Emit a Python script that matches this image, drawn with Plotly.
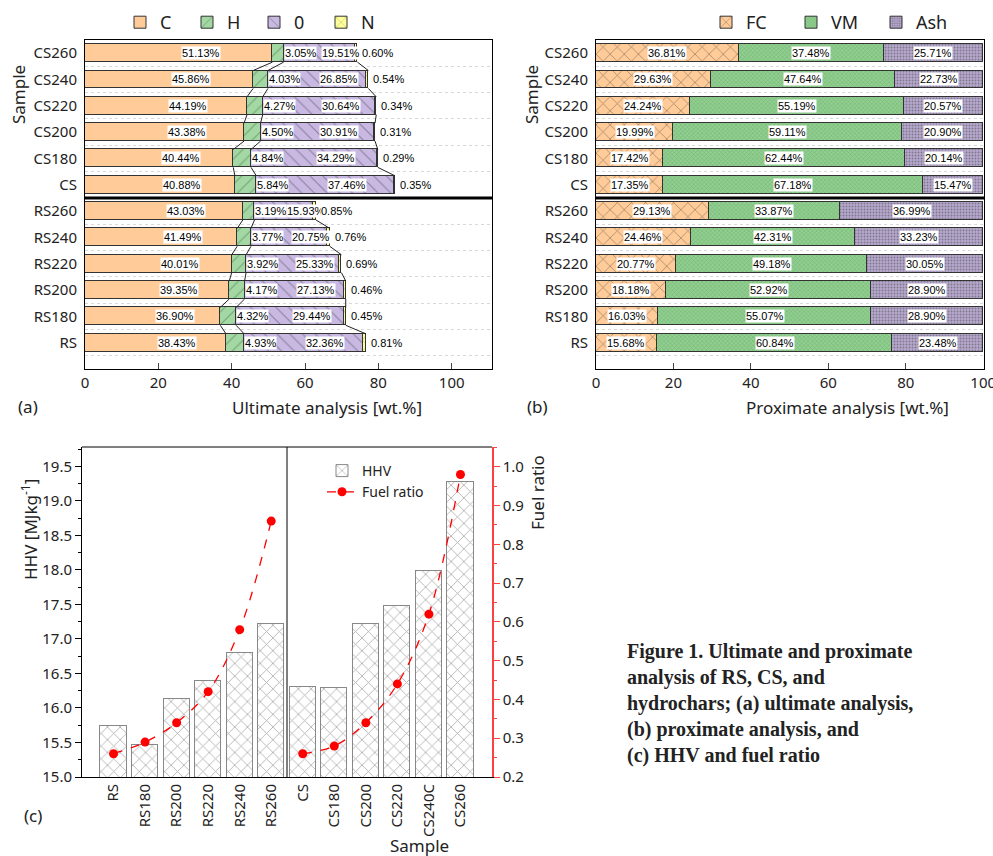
import plotly.graph_objects as go

# ---------------- data ----------------
samples = ["RS", "RS180", "RS200", "RS220", "RS240", "RS260",
           "CS", "CS180", "CS200", "CS220", "CS240", "CS260"]
hhv_labels = ["RS", "RS180", "RS200", "RS220", "RS240", "RS260",
              "CS", "CS180", "CS200", "CS220", "CS240C", "CS260"]

# (a) ultimate analysis [wt.%]
C_vals = [38.43, 36.90, 39.35, 40.01, 41.49, 43.03, 40.88, 40.44, 43.38, 44.19, 45.86, 51.13]
H_vals = [4.93, 4.32, 4.17, 3.92, 3.77, 3.19, 5.84, 4.84, 4.50, 4.27, 4.03, 3.05]
O_vals = [32.36, 29.44, 27.13, 25.33, 20.75, 15.93, 37.46, 34.29, 30.91, 30.64, 26.85, 19.51]
N_vals = [0.81, 0.45, 0.46, 0.69, 0.76, 0.85, 0.35, 0.29, 0.31, 0.34, 0.54, 0.60]

# (b) proximate analysis [wt.%]
FC_vals = [15.68, 16.03, 18.18, 20.77, 24.46, 29.13, 17.35, 17.42, 19.99, 24.24, 29.63, 36.81]
VM_vals = [60.84, 55.07, 52.92, 49.18, 42.31, 33.87, 67.18, 62.44, 59.11, 55.19, 47.64, 37.48]
Ash_vals = [23.48, 28.90, 28.90, 30.05, 33.23, 36.99, 15.47, 20.14, 20.90, 20.57, 22.73, 25.71]

# (c) HHV and fuel ratio
HHV_vals = [15.74, 15.47, 16.13, 16.39, 16.79, 17.22, 16.30, 16.29, 17.22, 17.47, 17.98, 19.28]
FR_vals = [0.26, 0.29, 0.34, 0.42, 0.58, 0.86, 0.26, 0.28, 0.34, 0.44, 0.62, 0.98]

groups = [list(range(0, 6)), list(range(6, 12))]
pos = list(range(len(samples)))

# ---------------- layout helpers ----------------
W, H = 993, 856
def px(x): return x / W
def py(y): return 1 - y / H

SANS = "Noto Sans"
LABEL_FONT = dict(family="Liberation Sans", size=11, color="black")
BW = 0.68

fig = go.Figure()

# ---------------- (a) ultimate ----------------
seg_a = [
    ("C", C_vals, "#FFCC99", None),
    ("H", H_vals, "#A3D7A3", dict(shape="/", fgcolor="#3f6f3f", size=9, solidity=0.12)),
    ("0", O_vals, "#C8B8E2", dict(shape="\\", fgcolor="#4a4a5a", size=9, solidity=0.12)),
    ("N", N_vals, "#FFFF99", dict(shape="x", fgcolor="#555", size=8, solidity=0.12)),
]
for name, vals, col, pat in seg_a:
    mk = dict(color=col, line=dict(color="#333", width=1))
    if pat:
        mk["pattern"] = dict(bgcolor=col, **pat)
    fig.add_trace(go.Bar(x=vals, y=pos, orientation="h", width=BW, name=name,
                         marker=mk, xaxis="x", yaxis="y", legend="legend"))

# connecting lines between adjacent bars (per group)
cum1 = C_vals
cum2 = [c + h for c, h in zip(C_vals, H_vals)]
tot = [c + h + o + n for c, h, o, n in zip(C_vals, H_vals, O_vals, N_vals)]
lx, ly = [], []
for b in (cum1, cum2, tot):
    for g in groups:
        for i in g[:-1]:
            lx += [b[i], b[i + 1], None]
            ly += [i + BW / 2, i + 1 - BW / 2, None]
fig.add_trace(go.Scatter(x=lx, y=ly, mode="lines", line=dict(color="#222", width=1),
                         showlegend=False, hoverinfo="skip", xaxis="x", yaxis="y"))

ann = []
for i in pos:
    c, h, o, n = C_vals[i], H_vals[i], O_vals[i], N_vals[i]
    common = dict(xref="x", yref="y", y=i, showarrow=False, font=LABEL_FONT,
                  bgcolor="white", borderpad=0, yanchor="middle")
    ann.append(dict(x=c / 2, text=f"{c:.2f}%", xshift=22, xanchor="center", **common))
    ann.append(dict(x=c + h, text=f"{h:.2f}%", xanchor="left", **common))
    ann.append(dict(x=c + h + o / 2, text=f"{o:.2f}%", xshift=22, xanchor="center", **common))
    ann.append(dict(x=c + h + o + n, text=f"{n:.2f}%", xanchor="left", xshift=4, **common))

# ---------------- (b) proximate ----------------
seg_b = [
    ("FC", FC_vals, "#FFCC99", dict(shape="x", fgcolor="#3a3028", size=10, solidity=0.14)),
    ("VM", VM_vals, "#90CF90", dict(shape="x", fgcolor="#559255", size=3, solidity=0.3)),
    ("Ash", Ash_vals, "#B7A8CF", dict(shape=".", fgcolor="#4a4a4a", size=3, solidity=0.35)),
]
for name, vals, col, pat in seg_b:
    fig.add_trace(go.Bar(x=vals, y=pos, orientation="h", width=BW, name=name,
                         marker=dict(color=col, line=dict(color="#333", width=1),
                                     pattern=dict(bgcolor=col, **pat)),
                         xaxis="x2", yaxis="y2", legend="legend2"))

for i in pos:
    f, v, a = FC_vals[i], VM_vals[i], Ash_vals[i]
    common = dict(xref="x2", yref="y2", y=i, showarrow=False, font=LABEL_FONT,
                  bgcolor="white", borderpad=0, xanchor="center", yanchor="middle")
    ann.append(dict(x=f / 2, text=f"{f:.2f}%", **common))
    ann.append(dict(x=f + v / 2, text=f"{v:.2f}%", **common))
    ann.append(dict(x=f + v + a / 2, text=f"{a:.2f}%", **common))

# ---------------- (c) HHV & fuel ratio ----------------
fig.add_trace(go.Bar(x=pos, y=HHV_vals, width=0.83, name="HHV",
                     marker=dict(color="white", line=dict(color="#888", width=1),
                                 pattern=dict(shape="x", fgcolor="#606060", bgcolor="white",
                                              size=9, solidity=0.18)),
                     xaxis="x3", yaxis="y3", legend="legend3"))
for k, g in enumerate(groups):
    fig.add_trace(go.Scatter(x=g, y=[FR_vals[i] for i in g], mode="lines+markers",
                             name="Fuel ratio", showlegend=(k == 0),
                             line=dict(color="red", width=1.3, dash="dash", shape="spline"),
                             marker=dict(color="red", size=9),
                             xaxis="x3", yaxis="y4", legend="legend3"))

# ---------------- axes ----------------
ydom_ab = [py(369), py(40)]
axis_common = dict(showline=True, linecolor="black", linewidth=1, mirror=True,
                   showgrid=False, zeroline=False, automargin=False,
                   ticklabeloverflow="allow",
                   tickfont=dict(family=SANS, size=15, color="#222"))
cat_y = dict(tickvals=pos, ticktext=samples, range=[-1, 11.5], ticks="",
             ticklabelstandoff=4,
             minor=dict(tick0=0.5, dtick=1, showgrid=True, gridcolor="#d8d8d8",
                        griddash="dot", gridwidth=1, ticks=""))

fig.update_layout(
    xaxis=dict(domain=[px(85), px(492)], anchor="y", range=[0, 111],
               tickvals=[0, 20, 40, 60, 80, 100], ticks="inside", ticklen=6, **axis_common),
    yaxis=dict(domain=ydom_ab, anchor="x", **cat_y, **axis_common),
    xaxis2=dict(domain=[px(596), px(984)], anchor="y2", range=[0, 100.2],
                tickvals=[0, 20, 40, 60, 80, 100], ticks="inside", ticklen=6, **axis_common),
    yaxis2=dict(domain=ydom_ab, anchor="x2", **cat_y, **axis_common),
    xaxis3=dict(domain=[px(82), px(492)], anchor="y3", range=[-1, 12],
                tickvals=pos, ticktext=hhv_labels, tickangle=-90, ticks="",
                showline=True, linecolor="black", mirror=False, showgrid=False, zeroline=False,
                automargin=False, tickfont=dict(family=SANS, size=15, color="#222")),
    yaxis3=dict(domain=[py(777), py(447)], anchor="x3", range=[15, 19.78],
                tickvals=[15, 15.5, 16, 16.5, 17, 17.5, 18, 18.5, 19, 19.5],
                tickformat=".1f", ticks="outside", ticklen=6, tickcolor="black",
                minor=dict(ticks="outside", ticklen=3, dtick=0.25, tickcolor="black"),
                showline=True, linecolor="black", showgrid=False, zeroline=False,
                automargin=False, tickfont=dict(family=SANS, size=15, color="#222")),
    yaxis4=dict(overlaying="y3", anchor="x3", side="right", range=[0.2, 1.051],
                tickvals=[0.2, 0.3, 0.4, 0.5, 0.6, 0.7, 0.8, 0.9, 1.0],
                tickformat=".1f", ticks="outside", ticklen=6, tickcolor="#ff4040",
                minor=dict(ticks="outside", ticklen=3, dtick=0.05, tickcolor="#ff4040"),
                showline=True, linecolor="#ff4040", linewidth=1.5, showgrid=False, zeroline=False,
                automargin=False, tickfont=dict(family=SANS, size=15, color="#222")),
)

# separator lines
shapes = [
    dict(type="line", xref="x domain", yref="y", x0=0, x1=1, y0=5.5, y1=5.5,
         line=dict(color="black", width=3)),
    dict(type="line", xref="x2 domain", yref="y2", x0=0, x1=1, y0=5.5, y1=5.5,
         line=dict(color="black", width=3)),
    dict(type="line", xref="x3", yref="y3 domain", x0=5.5, x1=5.5, y0=0, y1=1,
         line=dict(color="black", width=1)),
    dict(type="line", xref="x3 domain", yref="y3 domain", x0=0, x1=1, y0=1, y1=1,
         line=dict(color="black", width=1)),
]

TXT = dict(family=SANS, size=17, color="#222")
def txt(x, y, s, **kw):
    d = dict(xref="paper", yref="paper", x=px(x), y=py(y), text=s, showarrow=False,
             font=TXT, xanchor="center", yanchor="middle")
    d.update(kw)
    return d

ann += [
    txt(18, 95, "Sample", textangle=-90),
    txt(531, 95, "Sample", textangle=-90),
    txt(327, 407, "Ultimate analysis [wt.%]"),
    txt(847, 407, "Proximate analysis [wt.%]"),
    txt(28, 406, "(a)"),
    txt(537, 406, "(b)"),
    txt(33, 815, "(c)"),
    txt(29, 530, "HHV [MJkg<sup>-1</sup>]", textangle=-90),
    txt(537, 493, "Fuel ratio", textangle=-90),
    txt(419, 845, "Sample"),
    dict(xref="paper", yref="paper", x=px(625), y=py(638), xanchor="left", yanchor="top",
         align="left", showarrow=False,
         text="<b>Figure 1. Ultimate and proximate<br>analysis of RS, CS, and<br>"
              "hydrochars; (a) ultimate analysis,<br>(b) proximate analysis, and<br>"
              "(c) HHV and fuel ratio</b>",
         font=dict(family="Liberation Serif", size=20, color="#222")),
]

fig.update_layout(
    width=W, height=H, margin=dict(l=0, r=0, t=0, b=0, autoexpand=False),
    paper_bgcolor="white", plot_bgcolor="white",
    barmode="stack", bargap=0,
    shapes=shapes, annotations=ann,
    legend=dict(orientation="h", x=px(120), y=py(4), xanchor="left", yanchor="top",
                font=dict(family=SANS, size=18, color="#222"), bgcolor="rgba(0,0,0,0)",
                traceorder="normal", entrywidth=22, entrywidthmode="pixels"),
    legend2=dict(orientation="h", x=px(706), y=py(4), xanchor="left", yanchor="top",
                 font=dict(family=SANS, size=18, color="#222"), bgcolor="rgba(0,0,0,0)",
                 traceorder="normal", entrywidth=40, entrywidthmode="pixels"),
    legend3=dict(orientation="v", x=px(322), y=py(455), xanchor="left", yanchor="top",
                 font=dict(family=SANS, size=14, color="#222"), bgcolor="rgba(0,0,0,0)",
                 traceorder="normal", tracegroupgap=0),
    showlegend=True,
)

fig.write_html("out.html", config={"displayModeBar": False},
               post_script="document.body.style.margin='0';")
